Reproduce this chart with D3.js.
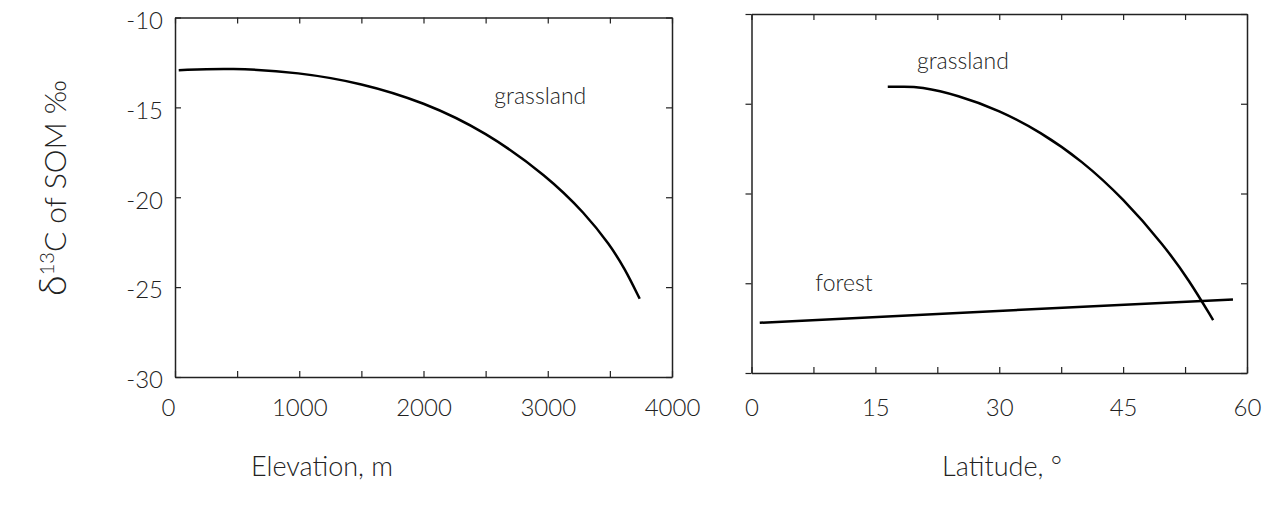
<!DOCTYPE html>
<html>
<head>
<meta charset="utf-8">
<script src="https://cdn.jsdelivr.net/npm/d3@7"></script>
<style>
body { margin: 0; background: #fff; }
text { font-family: Lato, "Open Sans", "Liberation Sans", sans-serif; font-weight: 300; fill: #222; }
.axis path, .axis line { stroke: #222; }
.axis path { stroke-width: 1.5; }
.axis line { stroke-width: 1.2; }
.courbe { fill: none; stroke: #000; stroke-width: 2.5; }
</style>
</head>
<body>
<svg id="chart" width="1267" height="506"></svg>
<script>

//DONNEES--------------------------------------------------
//-------------------------------------------------------

//Panneau gauche : altitude (m) et delta13C des prairies
let elevation = [30, 450, 1000, 1500, 2000, 2500, 3000, 3300, 3500, 3620, 3740];
let grassElev = [-12.93, -12.8, -13.05, -13.65, -14.7, -16.35, -18.85, -20.9, -22.65, -23.97, -25.65];

//Panneau droit : latitude (°)
let latitude = [16.5, 18.5, 20.3, 25, 30, 35, 40, 45, 50, 53, 55.9];
let grassLat = [-14.05, -14.05, -14.05, -14.52, -15.37, -16.57, -18.17, -20.27, -22.92, -24.84, -27.05];
let forestLatX = [1, 58.3];
let forestLat = [-27.2, -25.9];

//Graduations
let yTicks = [-10, -15, -20, -25, -30];
let elevTicks = [0, 1000, 2000, 3000, 4000];
let latTicks = [0, 15, 30, 45, 60];


//GRAPHIQUE----------------------------------------------
//-------------------------------------------------------

let svg = d3.select("#chart");

//Création des échelles
let xElev = d3.scaleLinear().domain([0, 4000]).range([175, 672]);
let yElev = d3.scaleLinear().domain([-30, -10]).range([377, 17.5]);
let xLat = d3.scaleLinear().domain([0, 60]).range([751.5, 1247]);
let yLat = d3.scaleLinear().domain([-30, -10]).range([373, 14]);

let ligne = (x, y) => d3.line()
  .x(d => x(d[0]))
  .y(d => y(d[1]))
  .curve(d3.curveBasis);

let sansTexte = () => "";

//Panneau gauche - axes
let basGauche = svg.append("g").attr("class", "axis")
  .attr("transform", "translate(0," + yElev(-30) + ")")
  .call(d3.axisBottom(xElev).tickValues(d3.range(0, 4001, 500)).tickSize(-6).tickSizeOuter(0).tickPadding(22)
    .tickFormat(d => elevTicks.includes(d) ? String(d) : ""));
basGauche.select(".tick text").attr("dx", -7);
svg.append("g").attr("class", "axis")
  .attr("transform", "translate(0," + yElev(-10) + ")")
  .call(d3.axisTop(xElev).tickValues(d3.range(0, 4001, 500)).tickSize(-6).tickSizeOuter(0).tickFormat(sansTexte));
svg.append("g").attr("class", "axis")
  .attr("transform", "translate(" + xElev(0) + ",0)")
  .call(d3.axisLeft(yElev).tickValues(yTicks).tickSize(-6).tickSizeOuter(0).tickPadding(12).tickFormat(d => String(d)))
  .selectAll("text").attr("dy", "0.45em");
svg.append("g").attr("class", "axis")
  .attr("transform", "translate(" + xElev(4000) + ",0)")
  .call(d3.axisRight(yElev).tickValues(yTicks).tickSize(-6).tickSizeOuter(0).tickFormat(sansTexte));

//Panneau droit - axes
svg.append("g").attr("class", "axis")
  .attr("transform", "translate(0," + yLat(-30) + ")")
  .call(d3.axisBottom(xLat).tickValues(d3.range(0, 61, 7.5)).tickSize(-6).tickSizeOuter(0).tickPadding(26)
    .tickFormat(d => latTicks.includes(d) ? String(d) : ""));
svg.append("g").attr("class", "axis")
  .attr("transform", "translate(0," + yLat(-10) + ")")
  .call(d3.axisTop(xLat).tickValues(d3.range(0, 61, 7.5)).tickSize(-6).tickSizeOuter(0).tickFormat(sansTexte));
svg.append("g").attr("class", "axis")
  .attr("transform", "translate(" + xLat(0) + ",0)")
  .call(d3.axisLeft(yLat).tickValues(yTicks).tickSize(6).tickSizeOuter(0).tickFormat(sansTexte));
svg.append("g").attr("class", "axis")
  .attr("transform", "translate(" + xLat(60) + ",0)")
  .call(d3.axisRight(yLat).tickValues(yTicks).tickSize(-6).tickSizeOuter(0).tickFormat(sansTexte));

svg.selectAll(".axis text").style("font-size", "24px");
svg.selectAll(".axis .domain").attr("fill", "none");

//Courbes
svg.append("path").attr("class", "courbe")
  .attr("d", ligne(xElev, yElev)(d3.zip(elevation, grassElev)));
svg.append("path").attr("class", "courbe")
  .attr("d", ligne(xLat, yLat)(d3.zip(latitude, grassLat)));
svg.append("path").attr("class", "courbe")
  .attr("d", ligne(xLat, yLat)(d3.zip(forestLatX, forestLat)));

//Étiquettes des courbes
let etiquette = (x, y, t) => svg.append("text")
  .attr("x", x).attr("y", y)
  .attr("text-anchor", "middle")
  .style("font-size", "23px")
  .text(t);
etiquette(xElev(2940), yElev(-14.8), "grassland");
etiquette(xLat(25.6), yLat(-13.05), "grassland");
etiquette(xLat(11.2), yLat(-25.45), "forest");

//Titres des axes
svg.append("text")
  .attr("x", 322).attr("y", 476)
  .attr("text-anchor", "middle")
  .style("font-size", "27px")
  .text("Elevation, m");
svg.append("text")
  .attr("x", 1002).attr("y", 476)
  .attr("text-anchor", "middle")
  .style("font-size", "27px")
  .text("Latitude, °");

let titreY = svg.append("text")
  .attr("transform", "translate(66,188) rotate(-90)")
  .attr("text-anchor", "middle")
  .style("font-size", "30px");
titreY.append("tspan").style("font-size", "38px").text("δ");
titreY.append("tspan").attr("baseline-shift", "super").style("font-size", "20px").text("13");
titreY.append("tspan").text("C of SOM ‰");

</script>
</body>
</html>
